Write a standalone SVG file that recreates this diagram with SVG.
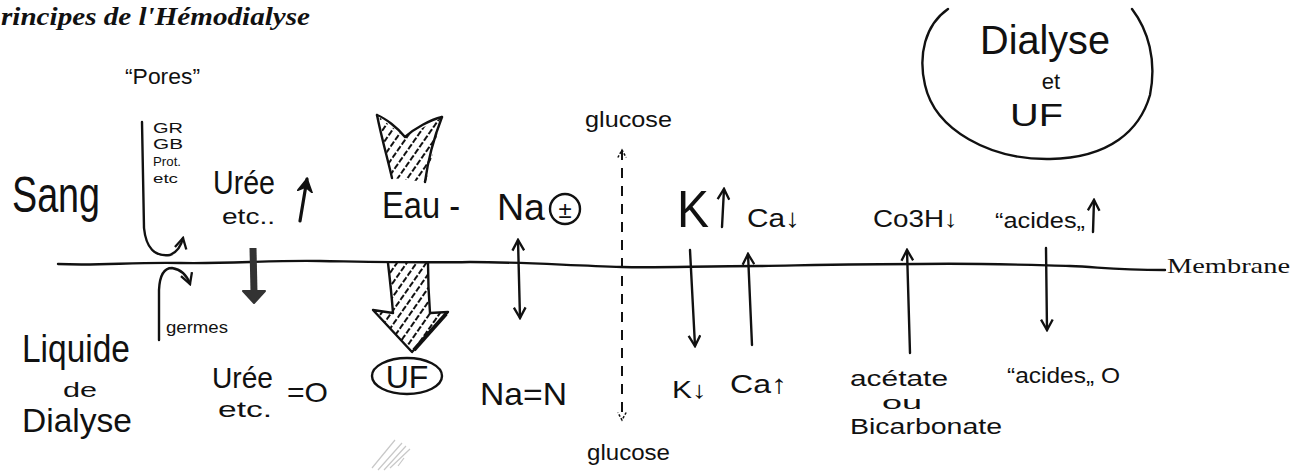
<svg xmlns="http://www.w3.org/2000/svg" width="1307" height="471" viewBox="0 0 1307 471">
<style>
.hw{font-family:"Liberation Sans","DejaVu Sans",sans-serif;fill:#111;}
.ser{font-family:"Liberation Serif","DejaVu Serif",serif;fill:#111;}
.ln{fill:none;stroke:#111;stroke-width:2.4;stroke-linecap:round;stroke-linejoin:round;}
.arr{fill:none;stroke:#111;stroke-width:2.4;stroke-linecap:round;marker-end:url(#ah);}
.faint{fill:none;stroke:#c8c8c8;stroke-width:1.2;}
</style>
<defs>
<marker id="ah" viewBox="0 0 12 12" refX="10" refY="6" markerWidth="14" markerHeight="14" markerUnits="userSpaceOnUse" orient="auto-start-reverse">
<path d="M1,1 L10,6 L1,11" fill="none" stroke="#111" stroke-width="2"/>
</marker>
<marker id="ahs" viewBox="0 0 12 12" refX="10" refY="6" markerWidth="10" markerHeight="10" markerUnits="userSpaceOnUse" orient="auto-start-reverse">
<path d="M1,1 L10,6 L1,11" fill="none" stroke="#111" stroke-width="1.8" stroke-dasharray="3 2"/>
</marker>
<marker id="ahb" viewBox="0 0 12 12" refX="10" refY="6" markerWidth="16" markerHeight="16" markerUnits="userSpaceOnUse" orient="auto">
<path d="M1,1 L10,6 L1,11 L4,6 Z" fill="#111" stroke="#111" stroke-width="1.5"/>
</marker>
<pattern id="hatch" width="8" height="8" patternUnits="userSpaceOnUse" patternTransform="rotate(-55)">
<line x1="0" y1="4" x2="8" y2="4" stroke="#111" stroke-width="2" stroke-dasharray="6 2"/>
</pattern>
</defs>
<rect width="1307" height="471" fill="#fff"/>

<text class="ser" x="1" y="25" font-size="26" font-weight="bold" font-style="italic" textLength="309" lengthAdjust="spacingAndGlyphs">rincipes de l'Hémodialyse</text>

<g id="membrane">
<path class="ln" d="M58,264 C100,266 130,262 180,263 C230,264 270,260 320,261 C380,262 420,263 470,262 C520,262 560,265 622,267 C660,268 700,266 760,266 C820,265 860,264 920,264 C980,263 1030,265 1070,266 C1100,267 1110,270 1165,270" stroke-width="2"/>
<text class="ser" x="1167" y="273" font-size="22" textLength="123" lengthAdjust="spacingAndGlyphs">Membrane</text>
</g>

<g id="sang"><text class="hw" x="12" y="212" font-size="50" textLength="88" lengthAdjust="spacingAndGlyphs">Sang</text></g>
<g id="liquide">
<text class="hw" x="22" y="362" font-size="38" textLength="108" lengthAdjust="spacingAndGlyphs">Liquide</text>
<text class="hw" x="63" y="397" font-size="20" textLength="34" lengthAdjust="spacingAndGlyphs">de</text>
<text class="hw" x="22" y="432" font-size="34" textLength="110" lengthAdjust="spacingAndGlyphs">Dialyse</text>
</g>

<g id="pores">
<text class="hw" x="125" y="84" font-size="22" textLength="75" lengthAdjust="spacingAndGlyphs">“Pores”</text>
<text class="hw" x="153" y="133" font-size="14" textLength="30" lengthAdjust="spacingAndGlyphs">GR</text>
<text class="hw" x="153" y="149" font-size="14" textLength="30" lengthAdjust="spacingAndGlyphs">GB</text>
<text class="hw" x="153" y="166" font-size="12" textLength="28" lengthAdjust="spacingAndGlyphs">Prot.</text>
<text class="hw" x="153" y="183" font-size="12" textLength="25" lengthAdjust="spacingAndGlyphs">etc</text>
</g>
<g id="germes"><text class="hw" x="166" y="333" font-size="16" textLength="62" lengthAdjust="spacingAndGlyphs">germes</text></g>

<g id="uree-sang">
<text class="hw" x="213" y="194" font-size="33" textLength="62" lengthAdjust="spacingAndGlyphs">Urée</text>
<text class="hw" x="222" y="224" font-size="22" textLength="53" lengthAdjust="spacingAndGlyphs">etc..</text>
</g>
<g id="uree-dialysat">
<text class="hw" x="212" y="388" font-size="29" textLength="61" lengthAdjust="spacingAndGlyphs">Urée</text>
<text class="hw" x="218" y="417" font-size="22" textLength="54" lengthAdjust="spacingAndGlyphs">etc.</text>
<text class="hw" x="287" y="402" font-size="28" textLength="41" lengthAdjust="spacingAndGlyphs">=O</text>
</g>

<g id="eau"><text class="hw" x="382" y="218" font-size="36" textLength="78" lengthAdjust="spacingAndGlyphs">Eau -</text></g>
<g id="uf">
<ellipse cx="407" cy="376" rx="35" ry="18" class="ln"/>
<text class="hw" x="407" y="388" font-size="32" text-anchor="middle">UF</text>
</g>

<g id="na-sang">
<text class="hw" x="497" y="220" font-size="36" textLength="48" lengthAdjust="spacingAndGlyphs">Na</text>
<circle cx="565" cy="209" r="15" class="ln"/>
<text class="hw" x="565" y="218" font-size="24" text-anchor="middle">±</text>
</g>
<g id="na-dialysat"><text class="hw" x="480" y="405" font-size="32" textLength="87" lengthAdjust="spacingAndGlyphs">Na=N</text></g>

<g id="glucose-haut"><text class="hw" x="585" y="127" font-size="22" textLength="87" lengthAdjust="spacingAndGlyphs">glucose</text></g>
<g id="glucose-bas"><text class="hw" x="587" y="460" font-size="22" textLength="83" lengthAdjust="spacingAndGlyphs">glucose</text></g>

<g id="k-sang"><text class="hw" x="677" y="227" font-size="52" textLength="32" lengthAdjust="spacingAndGlyphs">K</text></g>
<g id="ca-sang"><text class="hw" x="747" y="227" font-size="26" textLength="53" lengthAdjust="spacingAndGlyphs">Ca↓</text></g>
<g id="k-dialysat"><text class="hw" x="672" y="398" font-size="24" textLength="35" lengthAdjust="spacingAndGlyphs">K↓</text></g>
<g id="ca-dialysat"><text class="hw" x="730" y="393" font-size="26" textLength="57" lengthAdjust="spacingAndGlyphs">Ca↑</text></g>

<g id="co3h"><text class="hw" x="873" y="227" font-size="24" textLength="85" lengthAdjust="spacingAndGlyphs">Co3H↓</text></g>
<g id="acetate">
<text class="hw" x="850" y="386" font-size="22" textLength="98" lengthAdjust="spacingAndGlyphs">acétate</text>
<text class="hw" x="882" y="409" font-size="18" textLength="40" lengthAdjust="spacingAndGlyphs">ou</text>
<text class="hw" x="850" y="434" font-size="22" textLength="152" lengthAdjust="spacingAndGlyphs">Bicarbonate</text>
</g>
<g id="acides-sang"><text class="hw" x="995" y="228" font-size="22" textLength="90" lengthAdjust="spacingAndGlyphs">“acides„</text></g>
<g id="acides-dialysat"><text class="hw" x="1007" y="383" font-size="22" textLength="113" lengthAdjust="spacingAndGlyphs">“acides„ O</text></g>

<g id="dialyse-uf">
<path class="ln" d="M948,9 C925,25 918,55 925,85 C935,130 990,160 1050,159 C1110,158 1140,130 1150,95 C1157,60 1148,30 1132,9"/>
<text class="hw" x="980" y="54" font-size="40" textLength="130" lengthAdjust="spacingAndGlyphs">Dialyse</text>
<text class="hw" x="1051" y="89" font-size="22" text-anchor="middle">et</text>
<text class="hw" x="1010" y="126" font-size="32" textLength="53" lengthAdjust="spacingAndGlyphs">UF</text>
</g>

<g id="connectors">
<path class="arr" d="M142,122 L144,228 Q147,258 170,255 Q180,251 183,238"/>
<path class="arr" d="M159,340 L159,290 Q160,268 172,268 Q185,270 190,284"/>
<path fill="none" stroke="#111" stroke-width="3.2" stroke-linecap="round" marker-end="url(#ahb)" d="M300,221 L307,179"/>
<path fill="none" stroke="#333" stroke-width="7" d="M253,248 L254,292"/>
<path fill="#333" stroke="#333" stroke-width="2" stroke-linejoin="round" d="M243,291 L265,291 L254,303 Z"/>

<path fill="url(#hatch)" stroke="none" d="M379,117 L405,137 L441,118 L426,182 L392,178 Z"/>
<path class="ln" d="M377,115 C385,118 398,128 405,137 C415,128 430,120 442,117"/>
<path class="ln" d="M377,115 C382,140 388,160 392,178"/>
<path class="ln" d="M442,117 C433,140 428,160 425,182"/>

<path fill="url(#hatch)" stroke="none" d="M389,263 L428,263 L430,312 L448,312 L412,352 L373,310 L393,312 Z"/>
<path class="ln" d="M388,263 C390,280 392,300 393,313 L373,310 L412,352 L448,312 L430,313 C429,300 428,280 428,263"/>
<path fill="none" stroke="#111" stroke-width="4" d="M446,314 L414,350"/>

<path class="arr" marker-start="url(#ah)" d="M518,240 L520,318"/>
<path fill="none" stroke="#111" stroke-width="2" stroke-dasharray="10 8" marker-start="url(#ahs)" marker-end="url(#ahs)" d="M622,150 L622,420"/>
<path class="arr" d="M722,227 L724,189"/>
<path class="arr" d="M690,250 L695,346"/>
<path class="arr" d="M752,345 L748,254"/>
<path class="arr" d="M910,353 L907,250"/>
<path class="arr" d="M1046,248 L1047,330"/>
<path class="arr" d="M1093,232 L1094,200"/>
</g>

<g id="stray-marks">
<path class="faint" d="M372,468 L395,440 M378,470 L402,443 M384,470 L406,446 M390,468 L410,449 M398,466 L404,458"/>
</g>
</svg>
